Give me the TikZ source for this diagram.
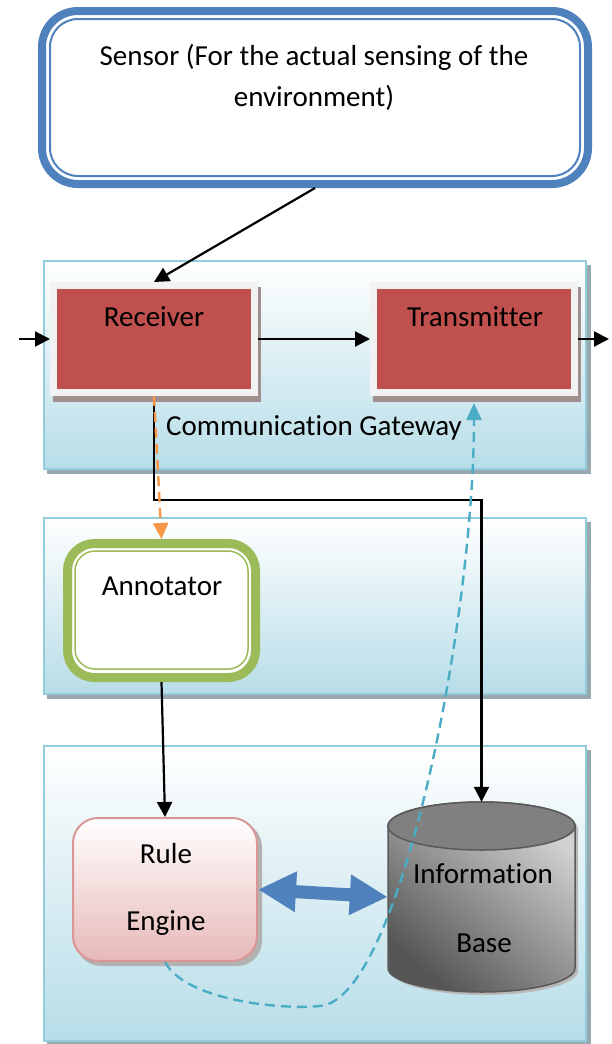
\documentclass[tikz,border=0pt]{standalone}
\usepackage{fontspec}
\setmainfont{Carlito}[Ligatures={NoCommon}]
\usetikzlibrary{arrows.meta,calc}
\definecolor{sensorblue}{HTML}{4F81BD}
\definecolor{panelblue}{HTML}{B7DDE8}
\definecolor{panelborder}{HTML}{93CDDD}
\definecolor{panelshadow}{HTML}{97A8AE}
\definecolor{recred}{HTML}{C0504D}
\definecolor{framegray}{HTML}{F2F2F2}
\definecolor{frameshadow}{HTML}{A08F8F}
\definecolor{anngreen}{HTML}{9BBB59}
\definecolor{ruleborder}{HTML}{D99694}
\definecolor{rulebottom}{HTML}{E6B9B8}
\definecolor{dashorange}{HTML}{F79646}
\definecolor{dashcyan}{HTML}{4BACC6}
\definecolor{cyllight}{HTML}{D2D2D2}
\definecolor{cyldark}{HTML}{555555}
\definecolor{cyltop}{HTML}{808080}
\definecolor{cylborder}{HTML}{595959}
\begin{document}
\begin{tikzpicture}[x=1pt,y=1pt,
  txt/.style={font=\fontsize{29}{35}\selectfont, inner sep=0pt, anchor=base},
  panel/.style={draw=panelborder, line width=2pt, top color=white, bottom color=panelblue, inner sep=0pt, minimum width=542pt},
  framebox/.style={draw=framegray, fill=recred, line width=7pt, inner sep=0pt, minimum width=201pt, minimum height=107pt},
  conn/.style={draw=black, line width=2.2pt, -{Triangle[length=15pt,width=15pt]}},
  orangedash/.style={draw=dashorange, line width=2.4pt, dash pattern=on 10pt off 6pt, -{Triangle[length=16pt,width=15pt]}},
  cyandash/.style={draw=dashcyan, line width=2.4pt, dash pattern=on 10pt off 6pt, -{Triangle[length=17pt,width=15pt]}},
  bigarrow/.style={draw=sensorblue, line width=13pt, {Triangle[length=38pt,width=38pt]}-{Triangle[length=38pt,width=38pt]}}
]
\useasboundingbox (0,0) rectangle (611,-1044);
\fill[white] (0,0) rectangle (611,-1044);

% panel shadows
\fill[panelshadow] (47,-265) rectangle (591,-474);
\fill[panelshadow] (47,-522) rectangle (591,-699);
\fill[panelshadow] (47,-750) rectangle (591,-1045);

% panels
\node[panel, minimum height=208pt] (p1) at (315,-365) {};
\node[panel, minimum height=176pt] (p2) at (315,-606) {};
\node[panel, minimum height=295pt] (p3) at (315,-893.5) {};

% sensor
\node[draw=sensorblue, line width=8pt, rounded corners=36pt, fill=white, minimum width=546pt, minimum height=173pt, inner sep=0pt] (sensor) at (315,-97.5) {};
\draw[sensorblue, line width=2pt, rounded corners=28pt] (50,-19) rectangle (580,-176);
\node[txt] (tsen1) at (314,-65) {Sensor (For the actual sensing of the};
\node[txt] (tsen2) at (314,-106) {environment)};

% receiver / transmitter
\fill[frameshadow] (53,-287) rectangle (261,-402);
\fill[frameshadow] (373,-287) rectangle (581,-402);
\node[framebox] (rec) at (154,-339) {};
\node[framebox] (tr) at (474,-339) {};
\node[txt] (trec) at (154,-326) {Receiver};
\node[txt] (ttr) at (475,-326) {Transmit\kern0pt ter};
\node[txt] (tcg) at (314,-435) {Communicat\kern0pt ion Gateway};

% annotator
\node[draw=anngreen, line width=9pt, rounded corners=27pt, fill=white, minimum width=188pt, minimum height=134pt, inner sep=0pt] (ann) at (161.5,-610.5) {};
\draw[anngreen, line width=1.5pt, rounded corners=20pt] (75,-551) rectangle (248,-669);
\node[txt] (tann) at (162,-595) {Annotator};

% rule engine
\fill[gray!60, rounded corners=25pt] (76,-822) rectangle (262,-966);
\node[draw=ruleborder, line width=2pt, rounded corners=25pt, top color=white, bottom color=rulebottom, minimum width=184pt, minimum height=143pt, inner sep=0pt] (re) at (165,-889.5) {};
\node[txt] (trule) at (166,-863) {Rule};
\node[txt] (teng) at (166,-930) {Engine};

% information base (cylinder)
\node[inner sep=0pt, minimum width=187pt, minimum height=190pt] (ib) at (481.5,-897) {};
\fill[gray!55] (391,-829) -- (391,-971) arc[start angle=180, end angle=360, x radius=93.5pt, y radius=24pt] -- (578,-829) arc[start angle=0, end angle=180, x radius=93.5pt, y radius=24pt] -- cycle;
\path[top color=cyllight, bottom color=cyldark, shading angle=-40, draw=cylborder, line width=1.5pt]
  (388,-826) -- (388,-968) arc[start angle=180, end angle=360, x radius=93.5pt, y radius=24pt]
  -- (575,-826) arc[start angle=0, end angle=180, x radius=93.5pt, y radius=24pt] -- cycle;
\draw[fill=cyltop, draw=cylborder, line width=1.5pt] (481.5,-826) ellipse[x radius=93.5pt, y radius=24pt];
\node[txt] (tinf) at (483,-883) {Information};
\node[txt] (tbase) at (484,-952) {Base};

% free ends
\coordinate (inL) at (19,-339);
\coordinate (outR) at (609,-339);
\coordinate (jt) at (0,-500);
\coordinate (trin) at (474,-403);

% connectors
\draw[conn] (sensor.south) -- (rec.north);
\draw[conn] (inL) -- (rec.west);
\draw[conn] (rec.east) -- (tr.west);
\draw[conn] (tr.east) -- (outR);
\draw[conn, rounded corners=0pt] (rec.south) -- (rec.south |- jt) -| (ib.north);
\draw[orangedash] (rec.south) -- (ann.north);
\draw[conn] (ann.south) -- (re.north);
\draw[bigarrow] (re.east) -- (ib.west);
\draw[cyandash] (re.south) .. controls (185,-1000) and (280,-1010) .. (320,-1006)
  .. controls (400,-1000) and (474,-620) .. (trin);
\end{tikzpicture}
\end{document}
